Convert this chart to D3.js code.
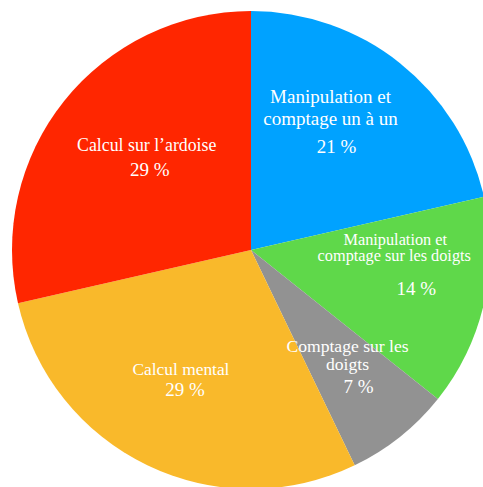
<!DOCTYPE html>
<html>
<head>
<meta charset="utf-8">
<script src="https://cdn.jsdelivr.net/npm/d3@7"></script>
<style>
  body { margin: 0; background: #fff; }
  svg { display: block; }
</style>
</head>
<body>
<svg id="chart"></svg>
<script>
// parts out of 14 pupils, clockwise from 12 o'clock
const categories = [
  ['Manipulation et', 'comptage un à un'],
  ['Manipulation et', 'comptage sur les doigts'],
  ['Comptage sur les', 'doigts'],
  ['Calcul mental'],
  ['Calcul sur l\u2019ardoise']
];
const values = [3, 2, 1, 4, 4];
const percentLabels = ['21 %', '14 %', '7 %', '29 %', '29 %'];
const colors = ['#00a2ff', '#5fd84a', '#929292', '#f9b92b', '#ff2600'];

// label text boxes were placed by hand in the original, so nudge each one
// [dx, dy] per line relative to the slice centroid, last line = percent
const labelNudge = [
  [[-14, -30], [-14, -8], [-8, 20]],
  [[-2, -38], [-3, -22], [19, 12]],
  [[3, -15], [3, 3], [14, 26]],
  [[-5, -10], [-1, 11]],
  [[13, -5], [16, 20]]
];
const nameSize = [19, 16.3, 17.6, 17.4, 17.8];
const pctSize = 19;

const width = 483;
const height = 487;
const cx = 251;
const cy = 250;
const radius = 239;

const svg = d3.select('#chart')
  .attr('width', width)
  .attr('height', height);

const g = svg.append('g')
  .attr('transform', `translate(${cx},${cy})`);

const pie = d3.pie().sort(null).value(d => d);
const arcs = pie(values);

const arc = d3.arc().innerRadius(0).outerRadius(radius);
const labelArc = d3.arc().innerRadius(150).outerRadius(150);

g.selectAll('path')
  .data(arcs)
  .enter()
  .append('path')
  .attr('d', arc)
  .attr('fill', (d, i) => colors[i]);

const label = g.selectAll('g.label')
  .data(arcs)
  .enter()
  .append('g')
  .attr('class', 'label')
  .attr('transform', d => 'translate(' + labelArc.centroid(d) + ')')
  .style('font-family', '"Liberation Serif", "Times New Roman", serif')
  .style('fill', '#fff')
  .attr('text-anchor', 'middle');

label.each(function (d, i) {
  const el = d3.select(this);
  const nudge = labelNudge[i];
  categories[i].forEach((t, j) => {
    el.append('text')
      .attr('x', nudge[j][0])
      .attr('y', nudge[j][1])
      .style('font-size', nameSize[i] + 'px')
      .text(t);
  });
  const last = nudge[nudge.length - 1];
  el.append('text')
    .attr('x', last[0])
    .attr('y', last[1])
    .style('font-size', pctSize + 'px')
    .text(percentLabels[i]);
});
</script>
</body>
</html>
